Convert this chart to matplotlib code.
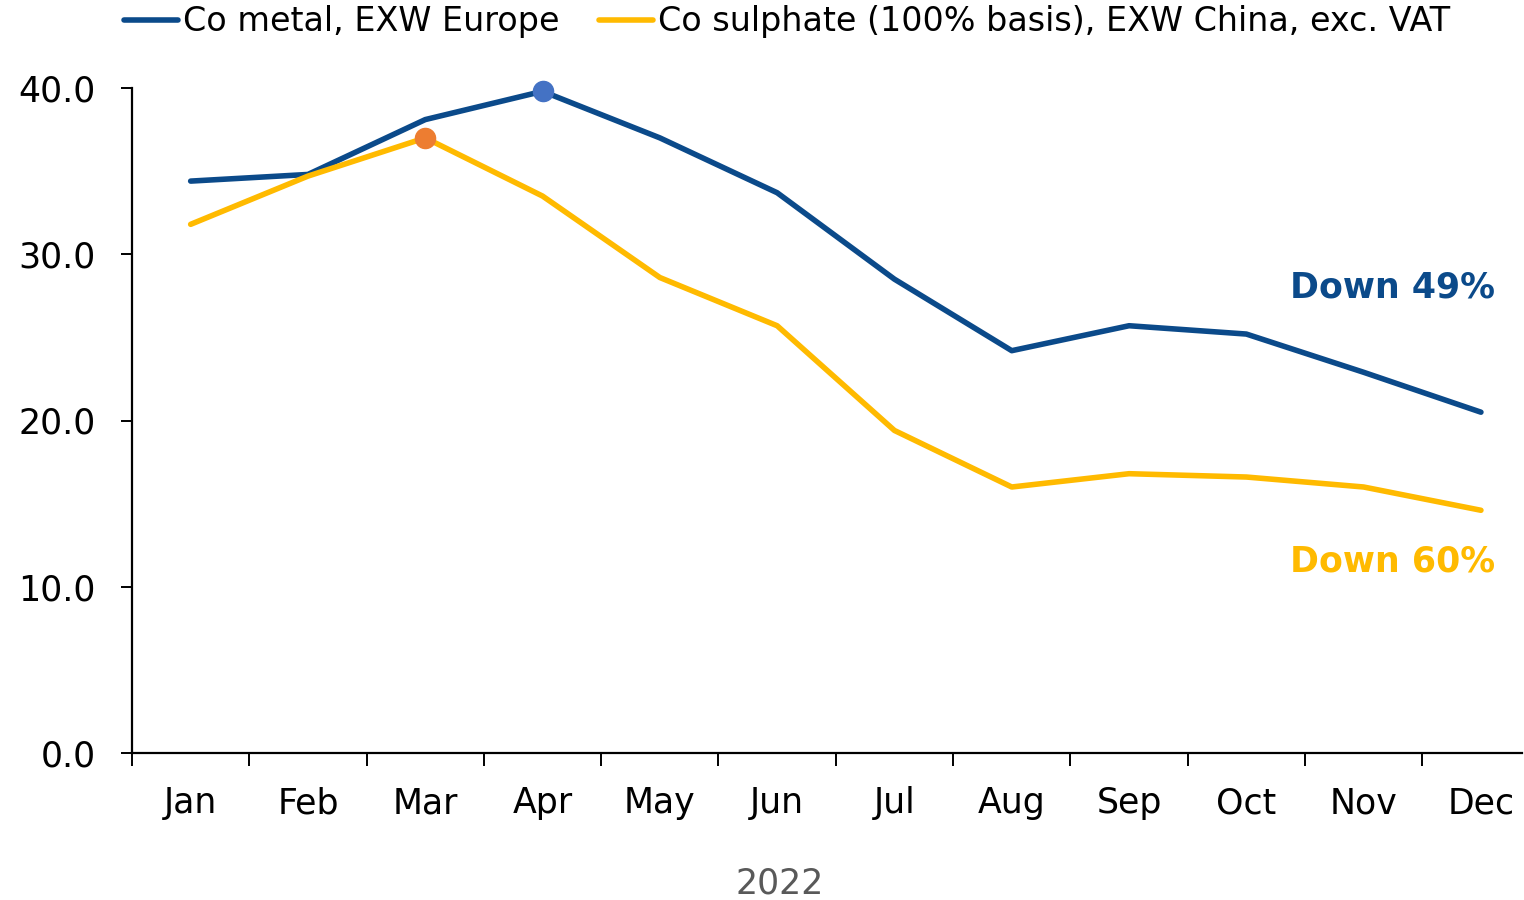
""" Cobalt metal vs sulphate prices, 2022 """

import matplotlib
matplotlib.use("Agg")
import matplotlib.pyplot as plt
from matplotlib.ticker import FixedLocator, NullFormatter

months = ["Jan", "Feb", "Mar", "Apr", "May", "Jun",
          "Jul", "Aug", "Sep", "Oct", "Nov", "Dec"]
co_metal = [34.4, 34.8, 38.1, 39.8, 37.0, 33.7, 28.5, 24.2, 25.7, 25.2, 22.9, 20.5]
co_sulphate = [31.8, 34.7, 37.0, 33.5, 28.6, 25.7, 19.4, 16.0, 16.8, 16.6, 16.0, 14.6]
metal_peak = 3      # Apr
sulphate_peak = 2   # Mar
yticks = [0.0, 10.0, 20.0, 30.0, 40.0]

BLUE = "#0B4A8A"
GOLD = "#FFBA00"

plt.rcParams["font.family"] = "DejaVu Sans"

fig = plt.figure(figsize=(15.24, 9), dpi=100)
ax = fig.add_axes([132 / 1524, 147 / 900, (1522 - 132) / 1524, 665 / 900])

x = list(range(len(months)))
ax.plot(x, co_metal, color=BLUE, lw=4, solid_capstyle="round",
        label="Co metal, EXW Europe")
ax.plot(x, co_sulphate, color=GOLD, lw=4, solid_capstyle="round",
        label="Co sulphate (100% basis), EXW China, exc. VAT")
ax.plot(x[metal_peak], co_metal[metal_peak], "o", color="#4472C4", ms=14.5,
        zorder=5, clip_on=False)
ax.plot(x[sulphate_peak], co_sulphate[sulphate_peak], "o", color="#ED7D31",
        ms=14.5, zorder=5, clip_on=False)

ax.set_xlim(-0.5, 11.35)
ax.set_ylim(0, 40)

for s in ["top", "right"]:
    ax.spines[s].set_visible(False)
for s in ["left", "bottom"]:
    ax.spines[s].set_linewidth(1.6)
    ax.spines[s].set_color("black")

# category boundaries as major ticks, labels at centres
ax.xaxis.set_major_locator(FixedLocator([i - 0.5 for i in range(13)]))
ax.xaxis.set_major_formatter(NullFormatter())
ax.xaxis.set_minor_locator(FixedLocator(x))
ax.set_xticklabels(months, minor=True)
ax.tick_params(axis="x", which="major", length=9, width=1.4, direction="out")
ax.tick_params(axis="x", which="minor", length=0, pad=24, labelsize=25)

ax.set_yticks(yticks)
ax.set_yticklabels([f"{v:.1f}" for v in yticks])
ax.tick_params(axis="y", length=8, width=1.4, pad=18, labelsize=25)

fig.text(780 / 1524, 1 - 884 / 900, "2022", ha="center", va="center",
         fontsize=25, color="#595959")

fig.text(1495 / 1524, 1 - 287 / 900, "Down 49%", ha="right", va="center",
         fontsize=25, fontweight="bold", color=BLUE)
fig.text(1495 / 1524, 1 - 561 / 900, "Down 60%", ha="right", va="center",
         fontsize=25, fontweight="bold", color=GOLD)

fig.legend(loc="center", bbox_to_anchor=(787 / 1524, 1 - 22 / 900), ncol=2,
           frameon=False, fontsize=24, handlelength=1.6, handletextpad=0.15,
           columnspacing=1.2, borderaxespad=0)

fig.savefig("out.png", dpi=100)
